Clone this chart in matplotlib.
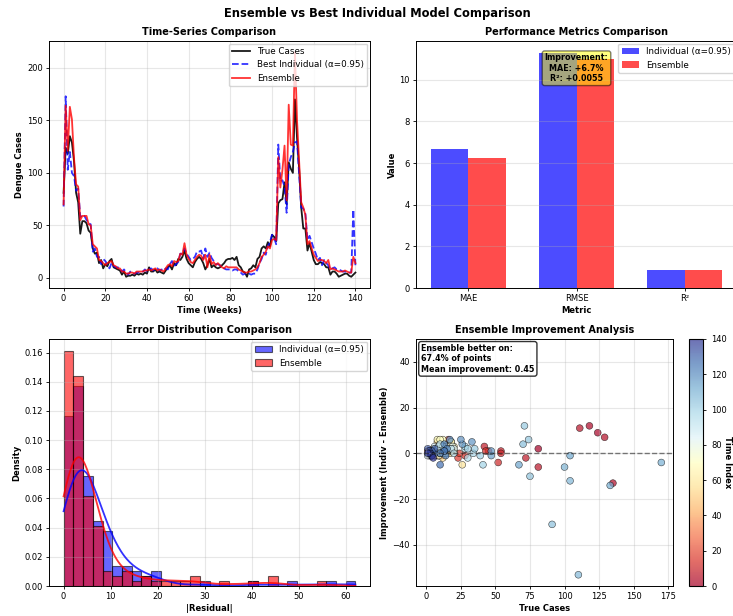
import numpy as np
import matplotlib
matplotlib.use("Agg")
import matplotlib.pyplot as plt

# ---------------- data ----------------
weeks = np.arange(141)
true_cases = [81, 124, 118, 135, 129, 111, 81, 72, 42, 54, 54, 52, 45, 43, 28,
              23, 24, 14, 17, 9, 13, 11, 16, 18, 10, 9, 8, 7, 3, 6, 1, 2, 2, 3, 2, 4,
              3, 4, 3, 5, 4, 10, 6, 6, 8, 5, 6, 5, 4, 7, 10, 12, 8, 14, 12, 18,
              17, 20, 26, 18, 14, 12, 10, 15, 18, 20, 18, 14, 8, 12, 18, 10, 12, 10, 9, 10,
              12, 14, 17, 18, 18, 19, 17, 20, 12, 10, 6, 5, 1, 8, 9, 12, 10, 18, 20, 28,
              30, 28, 34, 30, 41, 39, 35,
              71, 74, 75, 91, 70, 110, 104, 100, 170, 133, 104, 67, 47, 47,
              26, 33, 25, 17, 13, 13, 15, 14, 13, 10, 10, 3, 6, 6, 4, 1, 2, 3, 4, 4,
              2, 1, 3, 5]
best_individual = [68, 173, 103, 120, 100, 97, 83, 85, 58, 60, 59, 55, 52, 51, 25,
                   28, 20, 20, 13, 18, 16, 13, 9, 14, 11, 10, 10, 9, 6, 8, 5, 3, 6, 4, 4, 5,
                   5, 5, 6, 8, 6, 8, 9, 7, 8, 9, 7, 8, 7, 9, 8, 13, 16, 11, 13, 15,
                   23, 23, 28, 23, 20, 17, 18, 20, 25, 25, 26, 18, 28, 20, 24, 19, 16, 13, 13, 12,
                   10, 9, 8, 8, 8, 7, 8, 8, 6, 5, 3, 4, 4, 4, 3, 4, 4, 8, 14, 18,
                   24, 22, 30, 34, 41, 38, 32,
                   127, 92, 93, 87, 62, 108, 115, 120, 129, 130, 99, 67, 66, 61,
                   36, 40, 34, 28, 23, 17, 19, 12, 17, 14, 12, 8, 9, 10, 8, 8, 7, 6, 6, 5,
                   5, 5, 65, 12]
ensemble = [70, 164, 121, 163, 151, 114, 89, 87, 55, 59, 59, 59, 51, 50, 32,
            30, 28, 17, 16, 14, 12, 14, 15, 16, 12, 11, 9, 9, 6, 6, 4, 4, 5, 5, 4, 6,
            6, 6, 6, 7, 7, 8, 7, 8, 9, 7, 8, 7, 6, 9, 12, 13, 11, 16, 15, 16,
            23, 22, 33, 22, 18, 15, 14, 17, 20, 22, 21, 17, 22, 10, 22, 13, 15, 12, 14, 12,
            10, 9, 11, 10, 10, 10, 10, 10, 8, 7, 6, 5, 5, 6, 6, 7, 8, 10, 14, 20,
            22, 25, 30, 28, 36, 37, 36,
            115, 86, 103, 126, 74, 165, 127, 126, 215, 150, 110, 72, 67, 60,
            32, 35, 28, 22, 19, 16, 17, 17, 16, 14, 17, 8, 9, 8, 7, 6, 6, 6, 7, 6,
            5, 5, 20, 14]

metric_names = ["MAE", "RMSE", "R²"]
individual_metrics = [6.70, 11.30, 0.880]
ensemble_metrics = [6.25, 11.02, 0.8855]
mae_improvement_pct = 6.7
r2_improvement = 0.0055
better_pct = 67.4
mean_improvement = 0.45

# ---------------- derived ----------------
T = np.array(true_cases, float)
I = np.array(best_individual, float)
E = np.array(ensemble, float)
res_ind = np.abs(I - T)
res_ens = np.abs(E - T)
improvement = res_ind - res_ens

W, H = 733, 616
fig = plt.figure(figsize=(W / 100, H / 100), dpi=100)

def px_axes(l, r, t, b):
    return fig.add_axes([l / W, (H - b) / H, (r - l) / W, (b - t) / H])

TICK = 6.0
LAB = 6.0
TTL = 7.0
LEG = 6.3

ax1 = px_axes(49, 370, 41, 288)
ax2 = px_axes(416, 737, 41, 288)
ax3 = px_axes(49, 370, 339, 586)
ax4 = px_axes(416, 673, 339, 586)
cax = px_axes(689, 703, 339, 586)

fig.suptitle("Ensemble vs Best Individual Model Comparison", fontsize=8.3,
             fontweight="bold", x=377 / W, y=1 - 14 / H, va="center")

# ---- Time series ----
ax1.plot(weeks, T, color="black", lw=1.3, label="True Cases", alpha=0.9)
ax1.plot(weeks, I, color="blue", lw=1.3, ls="--", alpha=0.8,
         label="Best Individual (α=0.95)")
ax1.plot(weeks, E, color="red", lw=1.3, alpha=0.8, label="Ensemble")
ax1.set_title("Time-Series Comparison", fontsize=TTL, fontweight="bold", pad=4)
ax1.set_xlabel("Time (Weeks)", fontsize=LAB, fontweight="bold", labelpad=2)
ax1.set_ylabel("Dengue Cases", fontsize=LAB, fontweight="bold", labelpad=2)
ax1.legend(loc="upper right", fontsize=LEG, borderaxespad=0.3)
ax1.grid(alpha=0.3)

# ---- Metrics bars ----
x = np.arange(len(metric_names))
bw = 0.35
ax2.bar(x - bw / 2, individual_metrics, bw, color="blue", alpha=0.7,
        label="Individual (α=0.95)")
ax2.bar(x + bw / 2, ensemble_metrics, bw, color="red", alpha=0.7, label="Ensemble")
ax2.set_xticks(x)
ax2.set_xticklabels(metric_names)
ax2.set_title("Performance Metrics Comparison", fontsize=TTL, fontweight="bold", pad=4)
ax2.set_xlabel("Metric", fontsize=LAB, fontweight="bold", labelpad=2)
ax2.set_ylabel("Value", fontsize=LAB, fontweight="bold", labelpad=2)
ax2.legend(loc="upper right", fontsize=LEG, borderaxespad=0.3)
ax2.grid(axis="y", alpha=0.3)
ax2.text(0.5, 0.95,
         f"Improvement:\nMAE: +{mae_improvement_pct:.1f}%\nR²: +{r2_improvement:.4f}",
         transform=ax2.transAxes, ha="center", va="top", fontsize=5.8,
         fontweight="bold",
         bbox=dict(boxstyle="round,pad=0.3", facecolor="yellow", alpha=0.5))

# ---- Error distribution ----
def kde(data, xs):
    n = len(data)
    h = data.std(ddof=1) * n ** (-0.2)
    z = (xs[:, None] - data[None, :]) / h
    return np.exp(-0.5 * z ** 2).sum(axis=1) / (n * h * np.sqrt(2 * np.pi))

rmax = max(res_ind.max(), res_ens.max())
bins = np.linspace(0, rmax, 31)
ax3.hist(res_ind, bins=bins, density=True, alpha=0.6, color="blue",
         edgecolor="black", linewidth=0.8, label="Individual (α=0.95)")
ax3.hist(res_ens, bins=bins, density=True, alpha=0.6, color="red",
         edgecolor="black", linewidth=0.8, label="Ensemble")
xs = np.linspace(0, rmax, 300)
ax3.plot(xs, kde(res_ind, xs), color="blue", lw=1.3, alpha=0.8)
ax3.plot(xs, kde(res_ens, xs), color="red", lw=1.3, alpha=0.8)
ax3.set_title("Error Distribution Comparison", fontsize=TTL, fontweight="bold", pad=4)
ax3.set_xlabel("|Residual|", fontsize=LAB, fontweight="bold", labelpad=2)
ax3.set_ylabel("Density", fontsize=LAB, fontweight="bold", labelpad=2)
ax3.legend(loc="upper right", fontsize=LEG, borderaxespad=0.3)
ax3.grid(alpha=0.3)

# ---- Improvement scatter ----
sc = ax4.scatter(T, improvement, c=weeks, cmap="RdYlBu", vmin=0, vmax=140,
                 s=24, alpha=0.7, edgecolors="black", linewidths=0.4)
ax4.axhline(0, color="black", ls="--", lw=1.0, alpha=0.5)
ax4.set_title("Ensemble Improvement Analysis", fontsize=TTL, fontweight="bold", pad=4)
ax4.set_xlabel("True Cases", fontsize=LAB, fontweight="bold", labelpad=2)
ax4.set_ylabel("Improvement (Indiv - Ensemble)", fontsize=LAB, fontweight="bold", labelpad=2)
ax4.grid(alpha=0.3)
ax4.text(0.02, 0.98,
         f"Ensemble better on:\n{better_pct:.1f}% of points\nMean improvement: {mean_improvement:.2f}",
         transform=ax4.transAxes, ha="left", va="top", fontsize=5.8, fontweight="bold",
         zorder=10,
         bbox=dict(boxstyle="round,pad=0.3", facecolor="white", alpha=0.8))
cb = fig.colorbar(sc, cax=cax)
cb.ax.tick_params(labelsize=TICK, length=2.5, width=0.6)
fig.text(727.5 / W, (H - 462) / H, "Time Index", rotation=270, ha="center", va="center",
         fontsize=LAB, fontweight="bold")

for ax in (ax1, ax2, ax3, ax4):
    ax.tick_params(labelsize=TICK, length=2.5, width=0.6, pad=2)
    for s in ax.spines.values():
        s.set_linewidth(0.7)

fig.savefig("out.png", dpi=100)
